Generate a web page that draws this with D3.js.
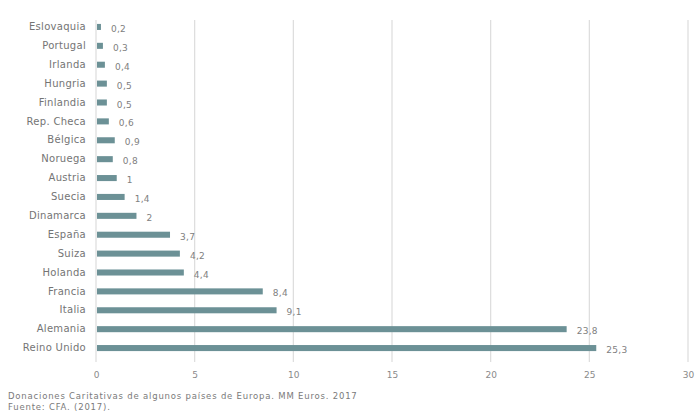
<!DOCTYPE html>
<html>
<head>
<meta charset="utf-8">
<script src="https://cdn.jsdelivr.net/npm/d3@7"></script>
<style>
  body { margin: 0; background: #fff; }
  svg { display: block; font-family: "DejaVu Sans", sans-serif; }
</style>
</head>
<body>
<svg width="696" height="419"></svg>
<script>
const countries = ['Eslovaquia','Portugal','Irlanda','Hungria','Finlandia','Rep. Checa','Bélgica','Noruega','Austria','Suecia','Dinamarca','España','Suiza','Holanda','Francia','Italia','Alemania','Reino Unido'];
const donations = [0.2, 0.3, 0.4, 0.5, 0.5, 0.6, 0.9, 0.8, 1, 1.4, 2, 3.7, 4.2, 4.4, 8.4, 9.1, 23.8, 25.3];
const xTicks = [0, 5, 10, 15, 20, 25, 30];
const footer = ['Donaciones Caritativas de algunos países de Europa. MM Euros. 2017', 'Fuente: CFA. (2017).'];

const svg = d3.select('svg');
const margin = {left: 96, right: 8, top: 17.5, bottom: 61.5};
const width = +svg.attr('width');
const height = +svg.attr('height');

const xScale = d3.scaleLinear().domain([0, 30]).range([margin.left, 688]);
const yScale = d3.scaleBand()
    .domain(countries)
    .range([margin.top, height - margin.bottom])
    .paddingInner(0.68)
    .paddingOuter(0.34);

const fmt = v => String(v).replace('.', ',');

// grid lines
svg.append('g')
    .selectAll('line')
    .data(xTicks)
    .enter().append('line')
    .attr('x1', d => xScale(d)).attr('x2', d => xScale(d))
    .attr('y1', 20).attr('y2', 362)
    .attr('stroke', '#dcdcdc')
    .attr('stroke-width', 1.2);

// x axis labels
const xAxis = svg.append('g')
    .attr('transform', 'translate(0,369)')
    .call(d3.axisBottom(xScale).tickValues(xTicks).tickSize(0).tickPadding(3));
xAxis.select('.domain').remove();
xAxis.selectAll('text')
    .attr('font-family', '"DejaVu Sans", sans-serif')
    .attr('font-size', 9)
    .attr('fill', '#8a8a8a');

// y axis labels
const yAxis = svg.append('g')
    .attr('transform', `translate(${margin.left},0)`)
    .call(d3.axisLeft(yScale).tickSize(0).tickPadding(10));
yAxis.select('.domain').remove();
yAxis.selectAll('text')
    .attr('font-family', '"DejaVu Sans", sans-serif')
    .attr('font-size', 10)
    .attr('letter-spacing', 0.3)
    .attr('fill', '#747474');

// bars
svg.append('g')
    .selectAll('rect')
    .data(donations)
    .enter().append('rect')
    .attr('x', xScale(0) + 1)
    .attr('y', (d, i) => yScale(countries[i]))
    .attr('width', d => xScale(d) - xScale(0))
    .attr('height', yScale.bandwidth())
    .attr('fill', '#6c9196');

// value labels
svg.append('g')
    .selectAll('text')
    .data(donations)
    .enter().append('text')
    .attr('x', d => xScale(d) + 11)
    .attr('y', (d, i) => yScale(countries[i]) + yScale.bandwidth() / 2 + 5)
    .attr('font-size', 9)
    .attr('letter-spacing', 0.3)
    .attr('fill', '#808080')
    .text(d => fmt(d));

// footer
svg.append('g')
    .selectAll('text')
    .data(footer)
    .enter().append('text')
    .attr('x', 8)
    .attr('y', (d, i) => 399 + i * 11)
    .attr('font-size', 8.5)
    .attr('letter-spacing', 0.8)
    .attr('fill', '#7a7a7a')
    .text(d => d);
</script>
</body>
</html>
